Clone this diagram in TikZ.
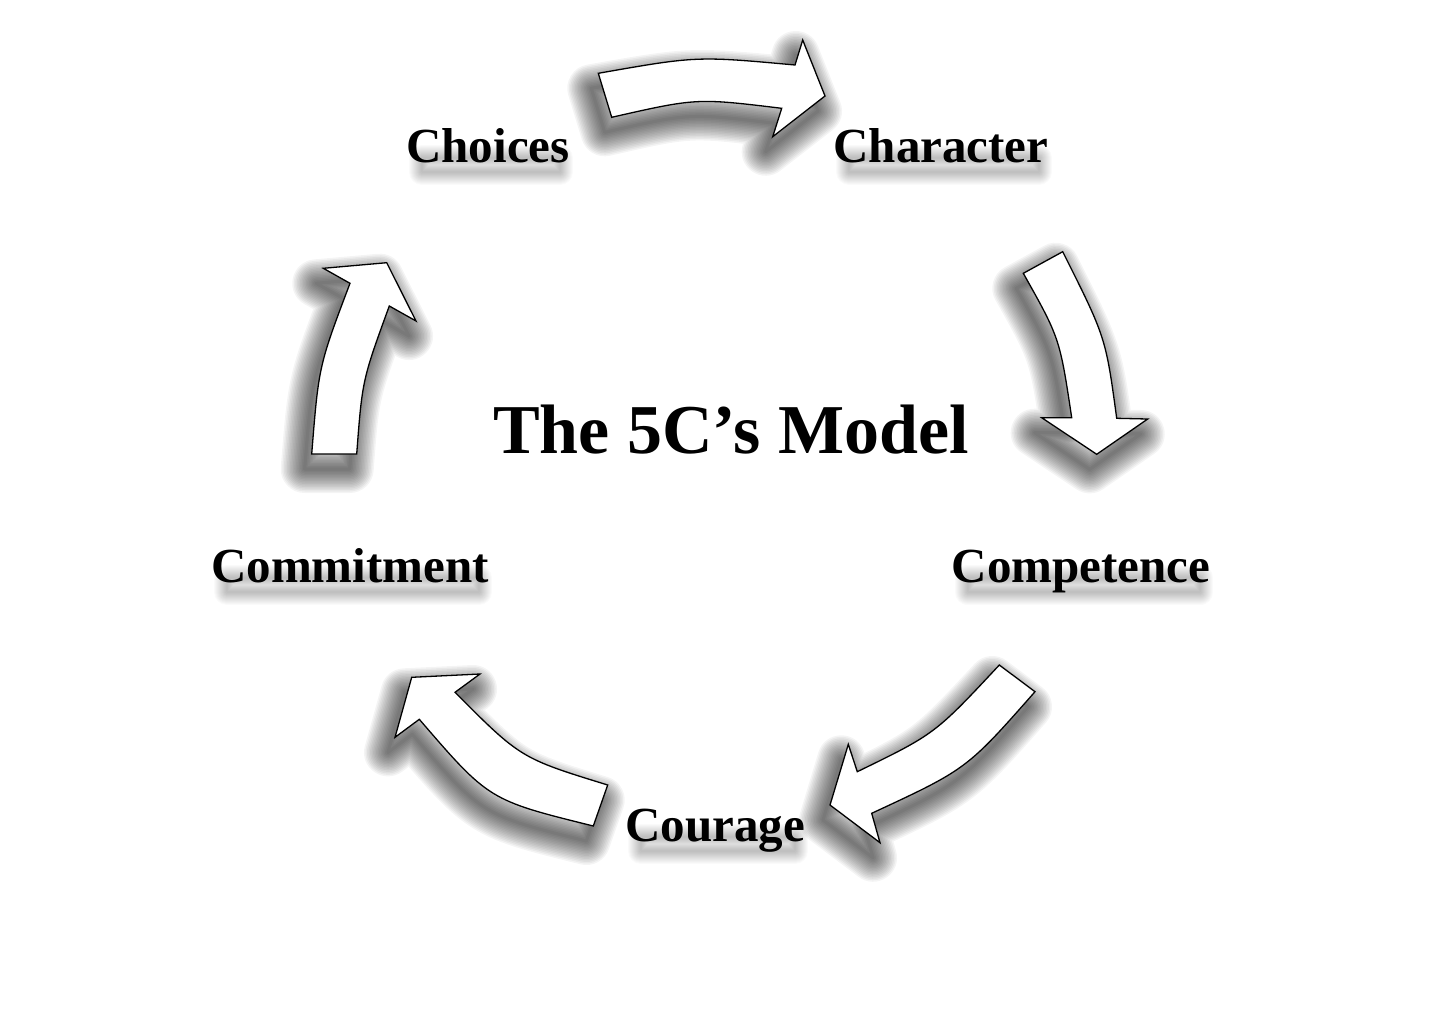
\documentclass[tikz,border=0pt]{standalone}
\usepackage{fontspec}
\setmainfont{Liberation Serif}
\def\arrowA{(598.3,73.3) .. controls (696.7,56.0) .. (795,65)
  -- (802.7,40) -- (825,96) -- (772.7,136.7) -- (781.7,108.3)
  .. controls (696.7,98.0) .. (611.7,117.3) -- cycle}
\def\arrowB{(1023.3,273.3) -- (1062.7,251.7) .. controls (1105.7,337.3) .. (1116.7,418.3)
  -- (1147.7,419) -- (1096.7,454.3) -- (1041.7,417.7) -- (1071.7,417.7)
  .. controls (1059.7,338.1) .. (1023.3,273.3) -- cycle}
\def\arrowC{(999.3,665) -- (1035,691.7) .. controls (966.7,769.2) .. (871.7,813.3)
  -- (880,842.7) -- (830,805) -- (848.3,744.3) -- (857.3,771.7)
  .. controls (935,733.9) .. (999.3,665) -- cycle}
\def\arrowD{(593.3,826) -- (607.7,785) .. controls (520.7,758.2) .. (455,692.3)
  -- (480,674) -- (411.7,677.3) -- (395,737.3) -- (419.3,719.3)
  .. controls (489.0,800.2) .. (593.3,826) -- cycle}
\def\arrowE{(311.7,454) -- (356.7,454) .. controls (362.3,380) .. (389.3,306)
  -- (416,321) -- (386.7,262.7) -- (323.3,268.3) -- (350,283.3)
  .. controls (318.7,366) .. (311.7,454) -- cycle}
\newcommand\softarrow[1]{%
  \begin{scope}[shift={(-7,15)}]
    \foreach \w in {3,6,...,48}{\draw[black, opacity=0.045, line width=\w pt, line join=round] #1;}
  \end{scope}
  \path[blockarrow] #1;}
\newcommand\shadowedlabel[4]{%
  \node[lbl] (#1) at (#2,#3) {#4};
  \foreach \w in {2,4,...,26}{\draw[black, opacity=0.02, line width=\w pt, line join=round]
    ([xshift=16pt,yshift=-10pt]#1.base west) -- ([xshift=-10pt,yshift=-10pt]#1.base east)
    -- ([xshift=-10pt,yshift=4pt]#1.base east) -- ([xshift=16pt,yshift=4pt]#1.base west) -- cycle;}}
\begin{document}
\begin{tikzpicture}[x=1pt,y=-1pt,
  blockarrow/.style={draw=black, line width=1.3pt, fill=white, line join=miter},
  lbl/.style={font=\fontsize{49}{49}\selectfont\bfseries, anchor=base, inner sep=0pt},
  ttl/.style={font=\fontsize{70}{70}\selectfont\bfseries, anchor=base, inner sep=0pt}]
\useasboundingbox (0,0) rectangle (1430,1034);
\fill[white] (0,0) rectangle (1430,1034);

\softarrow{\arrowA}% Choices -> Character
\softarrow{\arrowB}% Character -> Competence
\softarrow{\arrowC}% Competence -> Courage
\softarrow{\arrowD}% Courage -> Commitment
\softarrow{\arrowE}% Commitment -> Choices

\shadowedlabel{choices}{488}{162}{Choices}
\shadowedlabel{character}{941}{162}{Character}
\shadowedlabel{competence}{1081}{582}{Competence}
\shadowedlabel{commitment}{350}{582}{Commitment}
\shadowedlabel{courage}{715}{841}{Courage}

\node[ttl] (title) at (731,453) {The 5C’s Model};
\end{tikzpicture}
\end{document}
